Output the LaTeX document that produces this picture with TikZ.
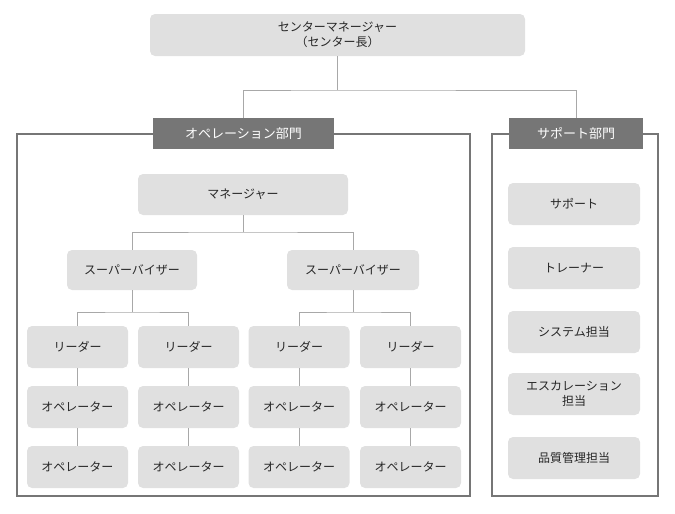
\documentclass[tikz,border=0pt]{standalone}
\usepackage{fontspec}
\newfontfamily\jp{Noto Sans CJK JP}
\definecolor{boxg}{HTML}{E0E0E0}
\definecolor{frameg}{HTML}{767676}
\definecolor{lineg}{HTML}{A8A8A8}
\begin{document}
\begin{tikzpicture}[x=1pt,y=-1pt,
 box/.style={fill=boxg,rounded corners=5pt,inner sep=0pt,font=\jp\fontsize{12}{15}\selectfont,text=black!85,align=center},
 head/.style={fill=frameg,inner sep=0pt,font=\jp\fontsize{13}{15}\selectfont,text=white,minimum height=31pt},
 frm/.style={draw=frameg,line width=2.5pt},
 ln/.style={draw=lineg,line width=0.8pt}]
\useasboundingbox (0,0) rectangle (675,514);
\draw[frm] (17,134) rectangle (470,496);
\draw[frm] (492,134) rectangle (658,496);
\node[box,minimum width=375pt,minimum height=42pt] (top) at (337.5,35) {センターマネージャー\\（センター長）};
\node[head,minimum width=181pt] (h1) at (243.5,133.5) {オペレーション部門};
\node[head,minimum width=134pt] (h2) at (576,133.5) {サポート部門};
\coordinate (j) at (337.5,90);
\draw[ln] (top.south)--(j);
\draw[ln] (h1.north) |- (j) -| (h2.north);
\node[box,minimum width=210pt,minimum height=41pt] (mg) at (243,194.5) {マネージャー};
\node[box,minimum width=130pt,minimum height=40pt] (s1) at (132,270) {スーパーバイザー};
\node[box,minimum width=132pt,minimum height=40pt] (s2) at (353,270) {スーパーバイザー};
\coordinate (jm) at (243,232);
\draw[ln] (mg.south)--(jm);
\draw[ln] (s1.north) |- (jm) -| (s2.north);
\foreach \n/\x in {a/77.5,b/188.5,c/299,d/410.5}{
 \node[box,minimum width=101pt,minimum height=42pt] (l\n) at (\x,347) {リーダー};
 \node[box,minimum width=101pt,minimum height=42pt] (o\n) at (\x,407) {オペレーター};
 \node[box,minimum width=101pt,minimum height=42pt] (p\n) at (\x,467) {オペレーター};
 \draw[ln] (l\n)--(o\n); \draw[ln] (o\n)--(p\n);
}
\coordinate (j1) at (132,312); \coordinate (j2) at (353,312);
\draw[ln] (s1.south)--(j1); \draw[ln] (la.north) |- (j1) -| (lb.north);
\draw[ln] (s2.south)--(j2); \draw[ln] (lc.north) |- (j2) -| (ld.north);
\node[box,minimum width=132pt,minimum height=42pt] (r1) at (574,204) {サポート};
\node[box,minimum width=132pt,minimum height=42pt] (r2) at (574,268) {トレーナー};
\node[box,minimum width=132pt,minimum height=42pt] (r3) at (574,332) {システム担当};
\node[box,minimum width=132pt,minimum height=42pt] (r4) at (574,394) {エスカレーション\\担当};
\node[box,minimum width=132pt,minimum height=42pt] (r5) at (574,458) {品質管理担当};
\end{tikzpicture}
\end{document}
